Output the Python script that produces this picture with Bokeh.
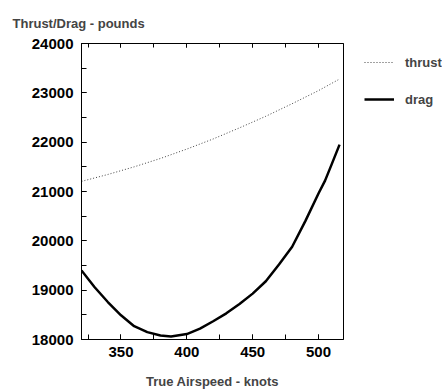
from bokeh.plotting import figure
from bokeh.layouts import row
from bokeh.models import (Range1d, LinearAxis, SingleIntervalTicker, Legend,
                          LegendItem, ColumnDataSource, CustomJSTickFormatter)
from bokeh.embed import file_html
from bokeh.resources import INLINE

# Thrust available and total drag versus true airspeed
thrust_knots = [320, 340, 360, 380, 400, 420, 440, 460, 480, 500, 515]
thrust_lbs = [21205, 21345, 21500, 21670, 21860, 22065, 22290, 22525, 22780, 23045, 23265]

drag_knots = [320, 330, 340, 350, 360, 370, 380, 388, 400, 410, 420, 430, 440,
              450, 460, 470, 480, 490, 500, 505, 510, 516]
drag_lbs = [19400, 19060, 18760, 18490, 18270, 18150, 18080, 18060, 18110, 18220,
            18370, 18530, 18720, 18930, 19180, 19520, 19880, 20400, 20960, 21220,
            21550, 21950]

series_names = ["thrust", "drag"]

FONT = "Liberation Sans"
THRUST_STYLE = dict(line_color="#444444", line_width=1, line_dash="1 2")
DRAG_STYLE = dict(line_color="black", line_width=2.5)

p = figure(width=344, height=392,
           x_range=Range1d(320, 519), y_range=Range1d(18000, 24000),
           output_backend="svg", toolbar_location=None,
           min_border_left=81, min_border_right=1,
           min_border_top=43, min_border_bottom=53,
           x_axis_label="True Airspeed - knots")

p.background_fill_color = "white"
p.border_fill_color = "white"
p.grid.visible = False
p.outline_line_color = "black"
p.outline_line_width = 1

p.title.text = "Thrust/Drag - pounds"
p.title.align = "left"
p.title.offset = -69
p.title.text_font = FONT
p.title.text_font_size = "13px"
p.title.text_font_style = "bold"
p.title.standoff = 26

xt = SingleIntervalTicker(interval=50, num_minor_ticks=2)
yt = SingleIntervalTicker(interval=1000, num_minor_ticks=2)
p.xaxis.ticker = xt
p.yaxis.ticker = yt

for ax in (p.xaxis[0], p.yaxis[0]):
    ax.major_tick_in = 5
    ax.major_tick_out = 0
    ax.minor_tick_in = 5
    ax.minor_tick_out = 0
    ax.axis_line_color = "black"
    ax.major_tick_line_color = "black"
    ax.minor_tick_line_color = "black"
    ax.major_label_text_font = FONT
    ax.major_label_text_font_style = "bold"
    ax.major_label_text_font_size = "15px"
    ax.major_label_text_color = "black"
    ax.axis_label_text_font = FONT
    ax.axis_label_text_font_style = "bold"
    ax.axis_label_text_font_size = "13px"

p.xaxis.major_label_standoff = 7
p.yaxis.major_label_standoff = 8
p.xaxis.axis_label_standoff = 14

# unlabelled top axis with inward ticks
blank = CustomJSTickFormatter(code="return ''")
top_axis = LinearAxis(ticker=xt, formatter=blank,
                      major_tick_in=4, major_tick_out=0,
                      minor_tick_in=4, minor_tick_out=0,
                      major_label_standoff=0, axis_line_color="black")
p.add_layout(top_axis, "above")

src_t = ColumnDataSource(dict(x=thrust_knots, y=thrust_lbs))
src_d = ColumnDataSource(dict(x=drag_knots, y=drag_lbs))
p.line("x", "y", source=src_t, **THRUST_STYLE)
p.line("x", "y", source=src_d, **DRAG_STYLE)

# key panel to the right of the chart; its lines carry the same series
# but lie outside the panel's view, so only the legend samples show
k = figure(width=98, height=392, x_range=Range1d(0, 1), y_range=Range1d(0, 1),
           output_backend="svg", toolbar_location=None,
           x_axis_location=None, y_axis_location=None,
           min_border=0)
k.grid.visible = False
k.outline_line_color = None
k.background_fill_color = "white"
k.border_fill_color = "white"
kt = k.line("x", "y", source=src_t, **THRUST_STYLE)
kd = k.line("x", "y", source=src_d, **DRAG_STYLE)

legend = Legend(items=[LegendItem(label=series_names[0], renderers=[kt]),
                       LegendItem(label=series_names[1], renderers=[kd])],
                location=(20, 230), orientation="vertical",
                border_line_color=None, background_fill_alpha=0,
                label_text_font=FONT, label_text_font_style="bold",
                label_text_font_size="13px", glyph_width=30, glyph_height=20,
                label_standoff=11, spacing=17, padding=0, margin=0)
k.add_layout(legend)

open("out.html", "w").write(file_html(row(p, k, spacing=0), INLINE))
